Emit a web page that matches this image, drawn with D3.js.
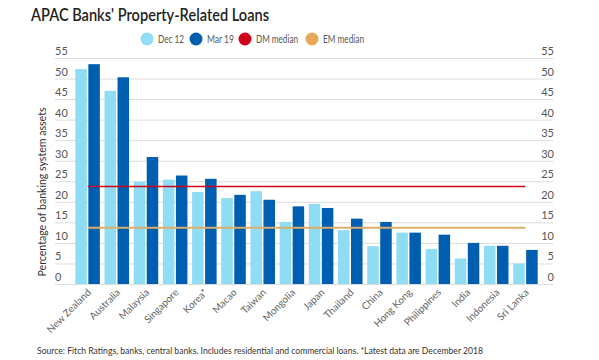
<!DOCTYPE html>
<html><head><meta charset="utf-8">
<script src="https://cdn.jsdelivr.net/npm/d3@7"></script>
<style>body{margin:0;background:#fff;}svg{display:block;font-family:Lato,"Open Sans",sans-serif;}</style>
</head><body><svg id="c" width="599" height="360"></svg>
<script>
const categories = ["New Zealand","Australia","Malaysia","Singapore","Korea*","Macao","Taiwan","Mongolia","Japan","Thailand","China","Hong Kong","Philippines","India","Indonesia","Sri Lanka"];
const dec12 = [52.3,47.0,24.9,25.4,22.4,20.9,22.6,15.1,19.5,13.1,9.2,12.5,8.5,6.2,9.3,5.0];
const mar19 = [53.5,50.3,30.9,26.4,25.6,21.7,20.5,18.9,18.5,15.9,15.1,12.5,12.0,10.0,9.3,8.3];
const dmMedian = 23.7;
const emMedian = 13.7;
const yTicks = [0,5,10,15,20,25,30,35,40,45,50,55];
const seriesNames = ["Dec 12","Mar 19"];
const legendItems = ["Dec 12","Mar 19","DM median","EM median"];

const colors = {"Dec 12":"#8fdcf5","Mar 19":"#005eb0","DM median":"#d0021b","EM median":"#e8a95a"};
const svg = d3.select("#c");
const gridL = 55, gridR = 553;
const y = d3.scaleLinear().domain([0,55]).range([284,58]);
const x0 = d3.scaleBand().domain(categories).range([73,540]).paddingInner(0.16).paddingOuter(0.08);
const x1 = d3.scaleBand().domain(seriesNames).range([0,x0.bandwidth()]).paddingInner(0.115);

// title
svg.append("text").attr("x",31).attr("y",21).attr("font-size",17).attr("font-weight",600).attr("fill","#222")
  .attr("textLength",238).attr("lengthAdjust","spacingAndGlyphs").text("APAC Banks' Property-Related Loans");

// legend
const lx = [147,196,245,312];
const lw = [26,27,42,41];
legendItems.forEach((n,i)=>{
  svg.append("circle").attr("cx",lx[i]).attr("cy",39).attr("r",6.5).attr("fill",colors[n]);
  svg.append("text").attr("x",lx[i]+11).attr("y",43).attr("font-size",11).attr("fill","#555")
    .attr("textLength",lw[i]).attr("lengthAdjust","spacingAndGlyphs").text(n);
});

// grid
svg.append("g").selectAll("line").data(yTicks).join("line")
  .attr("x1",gridL).attr("x2",gridR).attr("y1",d=>y(d)+0.5).attr("y2",d=>y(d)+0.5)
  .attr("stroke","#dcdcdc").attr("stroke-width",1);
const tl = svg.append("g").attr("font-size",11).attr("fill","#555");
tl.selectAll("text.l").data(yTicks).join("text").attr("class","l")
  .attr("x",gridL).attr("y",d=>y(d)-3).text(d=>d);
tl.selectAll("text.r").data(yTicks).join("text").attr("class","r")
  .attr("x",gridR+1).attr("y",d=>y(d)-3).attr("text-anchor","end").text(d=>d);

// axis title
svg.append("text").attr("transform","translate(46,192) rotate(-90)").attr("text-anchor","middle")
  .attr("font-size",11).attr("fill","#333").attr("textLength",169).attr("lengthAdjust","spacingAndGlyphs")
  .text("Percentage of banking system assets");

// bars
const rows = categories.map((c,i)=>({c, vals:[{s:"Dec 12",v:dec12[i]},{s:"Mar 19",v:mar19[i]}]}));
const g = svg.append("g").selectAll("g").data(rows).join("g").attr("transform",d=>`translate(${x0(d.c)},0)`);
g.selectAll("rect").data(d=>d.vals).join("rect")
  .attr("x",d=>x1(d.s)).attr("width",x1.bandwidth())
  .attr("y",d=>y(d.v)).attr("height",d=>y(0)-y(d.v)).attr("fill",d=>colors[d.s]);

// medians
const xa = x0(categories[0])+x0.bandwidth()/2, xb = x0(categories[categories.length-1])+x0.bandwidth()/2;
svg.append("line").attr("x1",xa).attr("x2",xb).attr("y1",y(dmMedian)).attr("y2",y(dmMedian)).attr("stroke",colors["DM median"]).attr("stroke-width",1.5);
svg.append("line").attr("x1",xa).attr("x2",xb).attr("y1",y(emMedian)).attr("y2",y(emMedian)).attr("stroke","#dcae6a").attr("stroke-width",2);

// x labels
svg.append("g").selectAll("text").data(categories).join("text")
  .attr("transform",d=>`translate(${x0(d)+x0.bandwidth()/2+4},293) rotate(-45)`)
  .attr("text-anchor","end").attr("font-size",10).attr("fill","#666").text(d=>d);

// source
svg.append("text").attr("x",37).attr("y",354).attr("font-size",9.5).attr("fill","#333")
  .attr("textLength",446).attr("lengthAdjust","spacingAndGlyphs")
  .text("Source: Fitch Ratings,  banks, central banks. Includes residential and commercial loans. *Latest data are December 2018");
</script></body></html>
